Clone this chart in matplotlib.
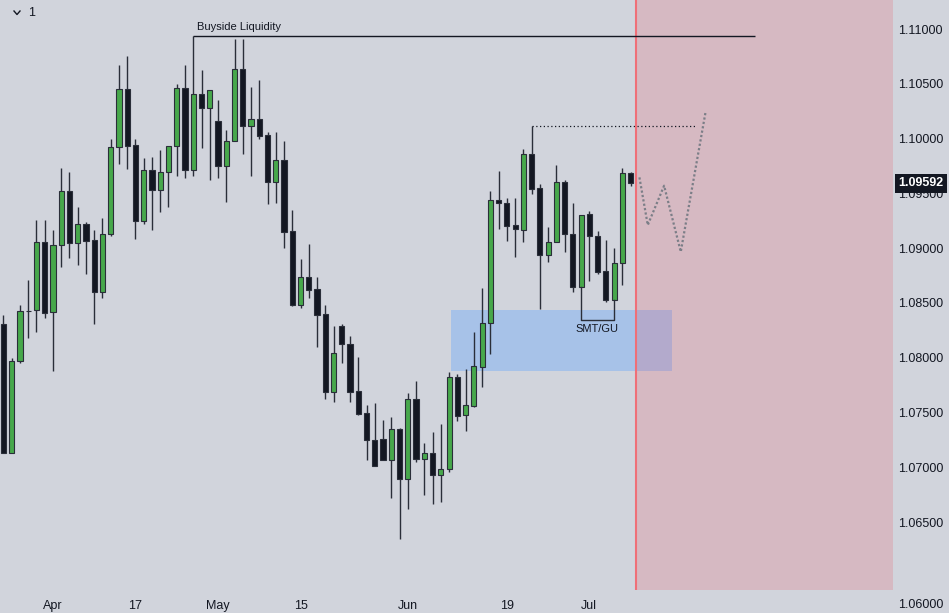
import matplotlib
matplotlib.use("Agg")
import matplotlib.pyplot as plt
import matplotlib.transforms as mtrans
from matplotlib.patches import Rectangle
from matplotlib.lines import Line2D

plt.rcParams['font.family'] = ['Liberation Sans', 'DejaVu Sans']

# daily EUR/USD candles, left to right (Mar 24 .. Jul 10)
opens = [1.08305, 1.07127, 1.07967, 1.08429, 1.08433, 1.09053, 1.08414, 1.09026, 1.09519, 1.09044,
         1.09217, 1.09071, 1.08597, 1.09126, 1.09920, 1.10450, 1.09939, 1.09250, 1.09710, 1.09533,
         1.09692, 1.09929, 1.10459, 1.09716, 1.10404, 1.10276, 1.10158, 1.09752, 1.09975, 1.10632,
         1.10117, 1.10176, 1.10030, 1.09606, 1.09802, 1.09154, 1.08484, 1.08734, 1.08624, 1.08396,
         1.07690, 1.08287, 1.08122, 1.07693, 1.07492, 1.07246, 1.07255, 1.07064, 1.07346, 1.06890,
         1.07620, 1.07073, 1.07127, 1.06927, 1.06981, 1.07821, 1.07474, 1.07562, 1.07918, 1.08314,
         1.09437, 1.09409, 1.09208, 1.09168, 1.09856, 1.09546, 1.08935, 1.09053, 1.09601, 1.09126,
         1.08642, 1.09309, 1.09108, 1.08789, 1.08529, 1.08862, 1.09683]
highs = [1.08390, 1.07997, 1.08481, 1.08709, 1.09254, 1.09254, 1.09163, 1.09731, 1.09695, 1.09373,
         1.09238, 1.09165, 1.09275, 1.09996, 1.10671, 1.10754, 1.09996, 1.09823, 1.09832, 1.09896,
         1.09929, 1.10498, 1.10671, 1.10936, 1.10626, 1.10441, 1.10352, 1.10078, 1.10909, 1.10909,
         1.10471, 1.10535, 1.10057, 1.10057, 1.09978, 1.09345, 1.08901, 1.09035, 1.08734, 1.08478,
         1.08287, 1.08305, 1.08195, 1.08004, 1.07565, 1.07584, 1.07429, 1.07456, 1.07356, 1.07675,
         1.07785, 1.07219, 1.07319, 1.07392, 1.07867, 1.07848, 1.07894, 1.08232, 1.08633, 1.09519,
         1.09701, 1.09455, 1.09455, 1.09902, 1.10115, 1.09583, 1.09190, 1.09759, 1.09619, 1.09409,
         1.09305, 1.09339, 1.09154, 1.09071, 1.08998, 1.09729, 1.09692]
lows = [1.07127, 1.07127, 1.07954, 1.08182, 1.08235, 1.08365, 1.07881, 1.08830, 1.08913, 1.08849,
        1.08767, 1.08310, 1.08548, 1.09113, 1.09771, 1.09725, 1.09086, 1.09223, 1.09168, 1.09330,
        1.09378, 1.09661, 1.09643, 1.09661, 1.09917, 1.09625, 1.09643, 1.09424, 1.09975, 1.09862,
        1.09661, 1.09999, 1.09406, 1.09415, 1.09004, 1.08475, 1.08456, 1.08548, 1.08100, 1.07626,
        1.07598, 1.07954, 1.07598, 1.07480, 1.07069, 1.07009, 1.07064, 1.06722, 1.06348, 1.06622,
        1.07051, 1.06750, 1.06667, 1.06686, 1.06960, 1.07425, 1.07334, 1.07553, 1.07735, 1.08036,
        1.09177, 1.09068, 1.08922, 1.09059, 1.09491, 1.08447, 1.08876, 1.09053, 1.08967, 1.08602,
        1.08642, 1.08703, 1.08767, 1.08511, 1.08529, 1.08666, 1.09564]
closes = [1.07127, 1.07967, 1.08423, 1.08422, 1.09053, 1.08411, 1.09026, 1.09519, 1.09044, 1.09217,
          1.09068, 1.08597, 1.09126, 1.09920, 1.10450, 1.09935, 1.09250, 1.09710, 1.09533, 1.09692,
          1.09929, 1.10459, 1.09716, 1.10404, 1.10276, 1.10441, 1.09752, 1.09975, 1.10632, 1.10117,
          1.10176, 1.10026, 1.09606, 1.09802, 1.09150, 1.08484, 1.08734, 1.08621, 1.08392, 1.07690,
          1.08040, 1.08122, 1.07690, 1.07489, 1.07246, 1.07009, 1.07064, 1.07346, 1.06890, 1.07620,
          1.07073, 1.07127, 1.06927, 1.06981, 1.07821, 1.07471, 1.07565, 1.07921, 1.08314, 1.09437,
          1.09409, 1.09205, 1.09172, 1.09856, 1.09542, 1.08935, 1.09053, 1.09601, 1.09126, 1.08642,
          1.09305, 1.09108, 1.08785, 1.08529, 1.08862, 1.09683, 1.09592]

date_ticks = [6, 16, 26, 36, 49, 61, 71]
date_labels = ['Apr', '17', 'May', '15', 'Jun', '19', 'Jul']
price_ticks = [1.065, 1.070, 1.075, 1.080, 1.085, 1.090, 1.095, 1.100, 1.105, 1.110]
last_price = 1.09592

# drawings
buyside_level = 1.10936
buyside_span = [23, 91.1]
target_level = 1.10115
target_span = [64, 84.1]
zigzag_x = [77.07, 78.08, 80.06, 82.08, 85.07]
zigzag_y = [1.09646, 1.09211, 1.09570, 1.08967, 1.10236]
zone_x = [54.24, 81.03]
zone_y = [1.07879, 1.08435]
smt_x = [70, 70, 74, 74]
smt_y = [1.08642, 1.08344, 1.08344, 1.08529]
cutoff = 76.67

BG = '#d1d4dc'
GREEN = '#47a84b'
BLACK = '#131722'
EDGE = '#2a2e39'

fig = plt.figure(figsize=(9.49, 6.13), dpi=100, facecolor=BG)
ax = fig.add_axes([0, 23 / 613, 893 / 949, 590 / 613])
ax.set_facecolor(BG)

x = list(range(len(opens)))
bottoms = [min(o, c) for o, c in zip(opens, closes)]
heights = [max(abs(c - o), 0.00004) for o, c in zip(opens, closes)]
colors = [GREEN if c >= o else BLACK for o, c in zip(opens, closes)]

ax.vlines(x, lows, highs, colors=EDGE, linewidth=1, zorder=3)
ax.bar(x, heights, bottom=bottoms, width=0.62, color=colors,
       edgecolor=EDGE, linewidth=0.8, zorder=4)

# zone + future area
ax.add_patch(Rectangle((zone_x[0], zone_y[0]), zone_x[1] - zone_x[0], zone_y[1] - zone_y[0],
                       facecolor='#a7c2e8', edgecolor='none', zorder=0.8))
ax.axvspan(cutoff, 120, color='#f23645', alpha=0.17, lw=0, zorder=1)
ax.axvline(cutoff, color='#ef6f78', lw=1.5, zorder=2)

ax.hlines(buyside_level, buyside_span[0], buyside_span[1], color=BLACK, lw=1, zorder=5)
ax.annotate('Buyside Liquidity', xy=(23.45, buyside_level), xytext=(0, 3),
            textcoords='offset points', fontsize=8, color=BLACK, va='bottom')

ax.plot(target_span, [target_level, target_level], ls=(0, (1, 2)), color=BLACK, lw=0.9, zorder=5)
ax.plot(zigzag_x, zigzag_y, ls=(0, (1, 1)), color='#7b7e87', lw=1.6, zorder=5)

ax.plot(smt_x, smt_y, color=EDGE, lw=1, zorder=5)
ax.text(71.95, 1.08262, 'SMT/GU', ha='center', va='center', fontsize=8, color=BLACK, zorder=6)

ax.set_xlim(-0.42, 107.8)
ax.set_ylim(1.05880, 1.11265)

ax.set_xticks(date_ticks)
ax.set_xticklabels(date_labels)
ax.set_yticks(price_ticks)
ax.set_yticklabels([f'{v:.5f}' for v in price_ticks])
ax.yaxis.tick_right()
ax.tick_params(axis='x', length=0, pad=7, labelsize=9, labelcolor=BLACK)
ax.tick_params(axis='y', length=0, pad=4, labelsize=9, labelcolor=BLACK)
for s in ax.spines.values():
    s.set_visible(False)

# last price tag
blend = mtrans.blended_transform_factory(ax.transAxes, ax.transData)
ax.annotate(f'{last_price:.5f}', xy=(1, last_price), xycoords=blend, xytext=(4, 0),
            textcoords='offset points', fontsize=9, fontweight='bold', color='white',
            va='center', ha='left', annotation_clip=False, zorder=10,
            bbox=dict(boxstyle='square,pad=0.3', fc=BLACK, ec='none'))

fig.text(898 / 949, 1 - 605 / 613, '1.06000', fontsize=9, color=BLACK, va='center')

# top-left legend toggle
fig.add_artist(Line2D([14 / 949, 17 / 949, 20 / 949], [1 - 11 / 613, 1 - 14.5 / 613, 1 - 11 / 613],
                      color=BLACK, lw=1))
fig.text(28 / 949, 1 - 13 / 613, '1', fontsize=9, color=BLACK, va='center')

fig.savefig('out.png', dpi=100, facecolor=BG)
